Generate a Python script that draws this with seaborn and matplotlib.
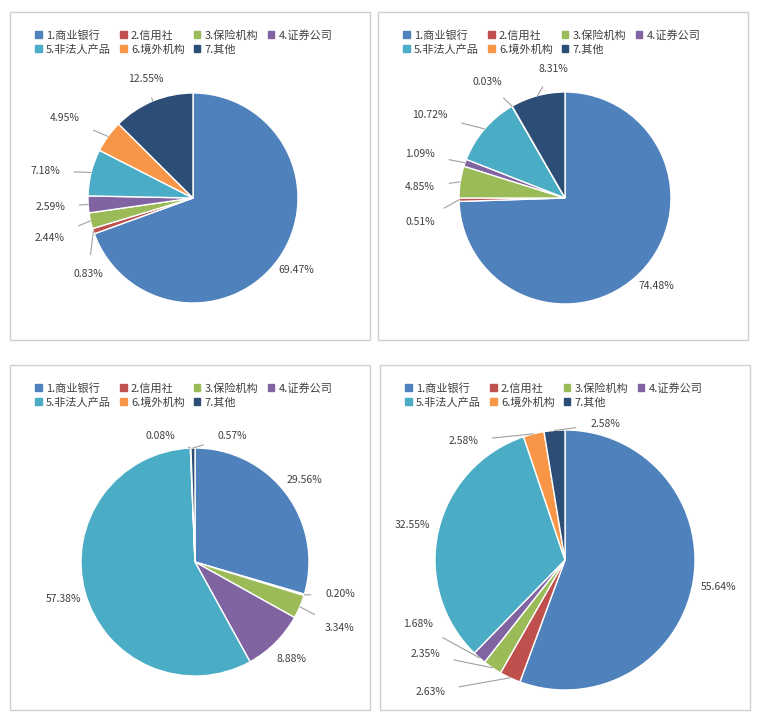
import numpy as np
import matplotlib
matplotlib.use("Agg")
import matplotlib.pyplot as plt
import seaborn as sns
from matplotlib.patches import Rectangle

sns.set_theme(style="white")
plt.rcParams['font.family'] = ['Noto Sans CJK SC', 'DejaVu Sans']

categories = ["1.商业银行", "2.信用社", "3.保险机构", "4.证券公司", "5.非法人产品", "6.境外机构", "7.其他"]
vals1 = [69.47, 0.83, 2.44, 2.59, 7.18, 4.95, 12.55]
vals2 = [74.48, 0.51, 4.85, 1.09, 10.72, 0.03, 8.31]
vals3 = [29.56, 0.20, 3.34, 8.88, 57.38, 0.08, 0.57]
vals4 = [55.64, 2.63, 2.35, 1.68, 32.55, 2.58, 2.58]
colors = ["#4F81BD", "#C0504D", "#9BBB59", "#8064A2", "#4BACC6", "#F79646", "#2C4D75"]

W, H = 759, 717
fig = plt.figure(figsize=(W/100, H/100), dpi=100)

# label position overrides in pixels (index -> (x, y))
panels = [
    ((10, 12, 370, 340), (193, 198), 105, vals1,
     {1: (88, 274), 2: (50, 238), 3: (50, 207), 4: (45, 171), 5: (65, 118), 6: (146, 79)}),
    ((378, 12, 748, 340), (565, 198), 106, vals2,
     {1: (420, 222), 2: (420, 187), 3: (420, 154), 4: (430, 115), 5: (487, 82), 6: (553, 69)}),
    ((10, 365, 370, 710), (195, 562), 114, vals3,
     {1: (340, 594), 2: (340, 628), 5: (160, 436), 6: (232, 436)}),
    ((380, 365, 750, 710), (565, 560), 130, vals4,
     {1: (430, 692), 2: (425, 654), 3: (418, 624), 5: (463, 441), 6: (605, 424)}),
]

order = [0, 4, 1, 5, 2, 6, 3]

for (x0, y0, x1, y1), (cx, cy), r, vals, over in panels:
    fig.add_artist(Rectangle((x0/W, 1-y1/H), (x1-x0)/W, (y1-y0)/H,
                             transform=fig.transFigure, fill=False,
                             edgecolor="#D0D0D0", linewidth=1))
    ext = r*1.6
    ax = fig.add_axes([(cx-ext)/W, 1-(cy+ext)/H, 2*ext/W, 2*ext/H])
    wedges, _ = ax.pie(vals, colors=colors, startangle=90, counterclock=False,
                       radius=1/1.6, wedgeprops=dict(edgecolor="white", linewidth=1))
    ax.set_xlim(-1, 1); ax.set_ylim(-1, 1); ax.set_aspect("equal"); ax.axis("off")
    R = 1/1.6
    for i, (w, v) in enumerate(zip(wedges, vals)):
        ang = np.deg2rad((w.theta1 + w.theta2)/2)
        c, s = np.cos(ang), np.sin(ang)
        if i in over:
            px, py = over[i]
            tx, ty = (px-cx)/ext, (cy-py)/ext
            line = True
        else:
            tx, ty = R*1.2*c, R*1.2*s
            line = v < 6
        ax.annotate(f"{v:.2f}%", xy=(R*c, R*s), xytext=(tx, ty),
                    ha="center", va="center", fontsize=7.5, color="#404040",
                    arrowprops=dict(arrowstyle="-", color="#A0A0A0", lw=0.8,
                                    shrinkA=8, shrinkB=0) if line else None)
    handles = [Rectangle((0, 0), 1, 1, color=col) for col in colors]
    fig.legend([handles[k] for k in order], [categories[k] for k in order],
               loc="upper left",
               bbox_to_anchor=((x0+15)/W, 1-(y0+8)/H), ncol=4, frameon=False,
               fontsize=8, handlelength=0.6, handleheight=0.6, columnspacing=0.8,
               handletextpad=0.4, labelspacing=0.3, labelcolor="#404040")

fig.savefig("out.png", dpi=100)
